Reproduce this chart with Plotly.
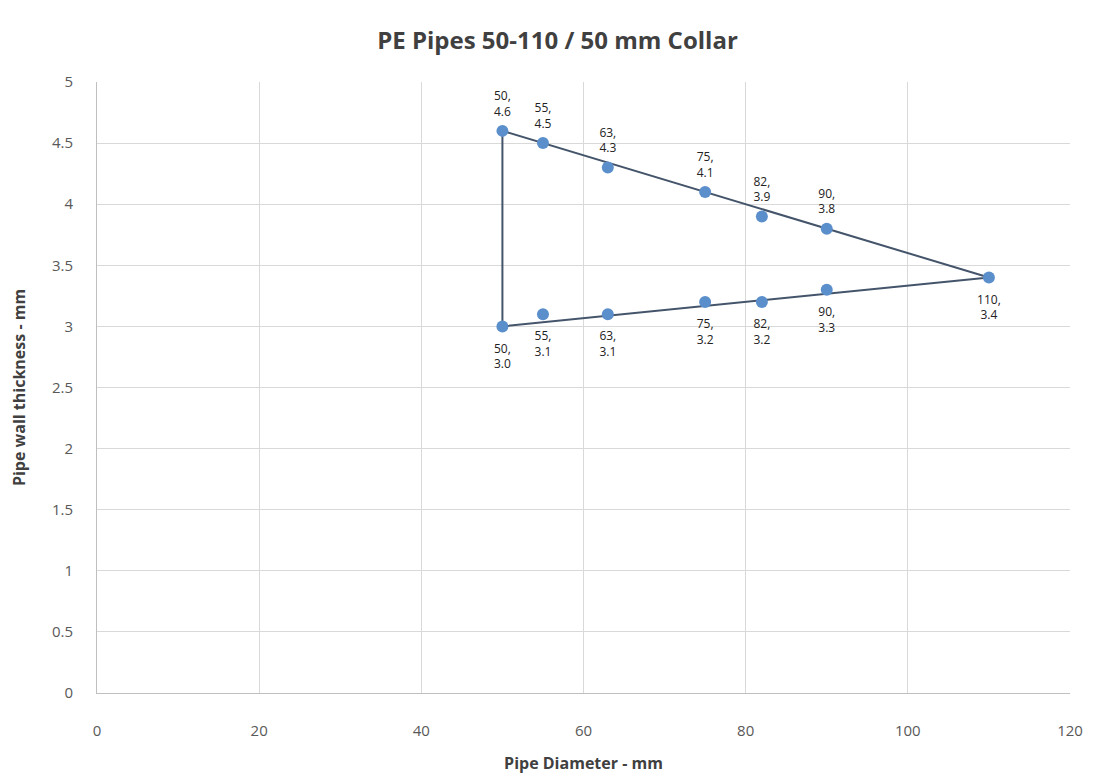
import plotly.graph_objects as go

# Upper series (max wall thickness)
upper_d = [50, 55, 63, 75, 82, 90]
upper_t = [4.6, 4.5, 4.3, 4.1, 3.9, 3.8]
# Lower series (min wall thickness)
lower_d = [50, 55, 63, 75, 82, 90, 110]
lower_t = [3.0, 3.1, 3.1, 3.2, 3.2, 3.3, 3.4]
upper_labels = ["50,<br>4.6", "55,<br>4.5", "63,<br>4.3", "75,<br>4.1", "82,<br>3.9", "90,<br>3.8"]
lower_labels = ["50,<br>3.0", "55,<br>3.1", "63,<br>3.1", "75,<br>3.2", "82,<br>3.2", "90,<br>3.3", "110,<br>3.4"]
# Triangle outline
tri_d = [50, 110, 50, 50]
tri_t = [4.6, 3.4, 3.0, 4.6]

x_ticks = [0, 20, 40, 60, 80, 100, 120]
y_ticks = [0, 0.5, 1, 1.5, 2, 2.5, 3, 3.5, 4, 4.5, 5]

point_color = "#5B8FCB"
line_color = "#44546A"
fam = "Open Sans, Liberation Sans, sans-serif"
label_font = dict(family=fam, size=12, color="#222222")

fig = go.Figure()
fig.add_trace(go.Scatter(x=tri_d, y=tri_t, mode="lines",
                         line=dict(color=line_color, width=2), hoverinfo="skip"))
fig.add_trace(go.Scatter(x=upper_d, y=upper_t, mode="markers",
                         marker=dict(color=point_color, size=12)))
fig.add_trace(go.Scatter(x=lower_d, y=lower_t, mode="markers",
                         marker=dict(color=point_color, size=12)))
# Data labels (invisible markers to offset the text a bit further from the points)
fig.add_trace(go.Scatter(x=upper_d, y=upper_t, mode="markers+text", text=upper_labels,
                         textposition="top center", textfont=label_font,
                         marker=dict(color="rgba(0,0,0,0)", size=18), hoverinfo="skip"))
fig.add_trace(go.Scatter(x=lower_d, y=lower_t, mode="markers+text", text=lower_labels,
                         textposition="bottom center", textfont=label_font,
                         marker=dict(color="rgba(0,0,0,0)", size=26), hoverinfo="skip"))

axis_font = dict(family=fam, size=15, color="#595959")
fig.update_layout(
    width=1099, height=783,
    margin=dict(l=89, r=37, t=74, b=98),
    plot_bgcolor="white", paper_bgcolor="white",
    showlegend=False,
    title=dict(text="<b>PE Pipes 50-110 / 50 mm Collar</b>", x=0.5, xanchor="center",
               y=0.959, yanchor="middle",
               font=dict(family=fam, size=24, color="#404040")),
    xaxis=dict(range=[0, 120], tickvals=x_ticks, showgrid=True, gridcolor="#D9D9D9",
               zeroline=False, showline=True, linecolor="#BFBFBF", linewidth=1,
               ticks="", tickfont=axis_font, ticklabelstandoff=24,
               title=dict(text="<b>Pipe Diameter - mm</b>", standoff=18,
                          font=dict(family=fam, size=16, color="#404040"))),
    yaxis=dict(range=[0, 5], tickvals=y_ticks, showgrid=True, gridcolor="#D9D9D9",
               zeroline=False, showline=True, linecolor="#BFBFBF", linewidth=1,
               ticks="", tickfont=axis_font, ticklabelstandoff=20,
               title=dict(text="<b>Pipe wall thickness - mm</b>", standoff=22,
                          font=dict(family=fam, size=16, color="#404040"))),
)

fig.write_html("out.html")
